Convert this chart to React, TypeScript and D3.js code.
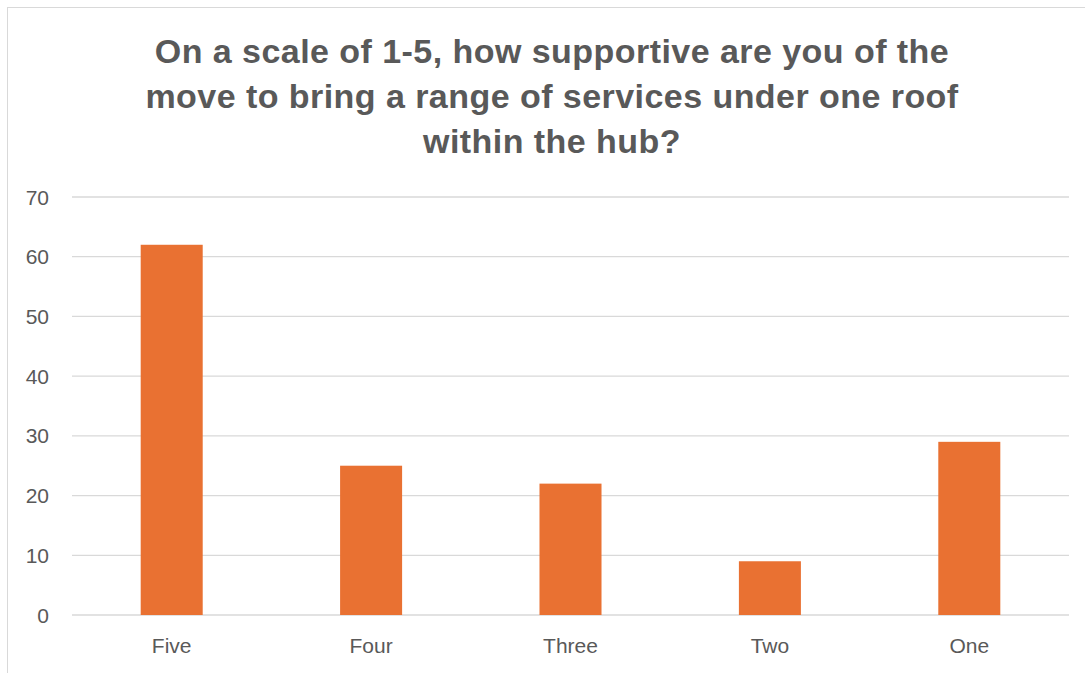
import React from "react";
import * as d3 from "d3";

const categories = ["Five", "Four", "Three", "Two", "One"];
const values = [62, 25, 22, 9, 29];
const yTicks = [0, 10, 20, 30, 40, 50, 60, 70];
const titleLines = [
  "On a scale of 1-5, how supportive are you of the",
  "move to bring a range of services under one roof",
  "within the hub?",
];

const W = 1085;
const H = 673;

export default function App() {
  const x = d3
    .scaleBand<string>()
    .domain(categories)
    .range([72, 1069])
    .paddingInner(0.689)
    .paddingOuter(0.3445);
  const y = d3.scaleLinear().domain([0, 70]).range([615, 197]);
  const textColor = "#595959";
  return (
    <svg
      width={W}
      height={H}
      style={{ position: "absolute", left: 0, top: 0 }}
      fontFamily="'Liberation Sans', Arial, sans-serif"
    >
      <rect x={0} y={0} width={W} height={H} fill="#fff" />
      <rect x={7.5} y={7.5} width={W + 20} height={H + 20} fill="#fff" stroke="#d9d9d9" strokeWidth={1} />
      {titleLines.map((t, i) => (
        <text
          key={i}
          x={552}
          y={63 + i * 45}
          textAnchor="middle"
          fontSize={34}
          letterSpacing={0.45}
          fontWeight={700}
          fill={textColor}
        >
          {t}
        </text>
      ))}
      {yTicks.map((t) => (
        <g key={t}>
          <line x1={72} x2={1069} y1={y(t)} y2={y(t)} stroke="#d9d9d9" strokeWidth={1.3} />
          <text x={49} y={y(t) + 7.5} textAnchor="end" fontSize={21} fill={textColor}>
            {t}
          </text>
        </g>
      ))}
      {categories.map((c, i) => (
        <rect
          key={c}
          x={x(c)}
          y={y(values[i])}
          width={x.bandwidth()}
          height={y(0) - y(values[i])}
          fill="#E97132"
        />
      ))}
      {categories.map((c) => (
        <text
          key={c}
          x={(x(c) as number) + x.bandwidth() / 2}
          y={653}
          textAnchor="middle"
          fontSize={21}
          fill={textColor}
        >
          {c}
        </text>
      ))}
    </svg>
  );
}
